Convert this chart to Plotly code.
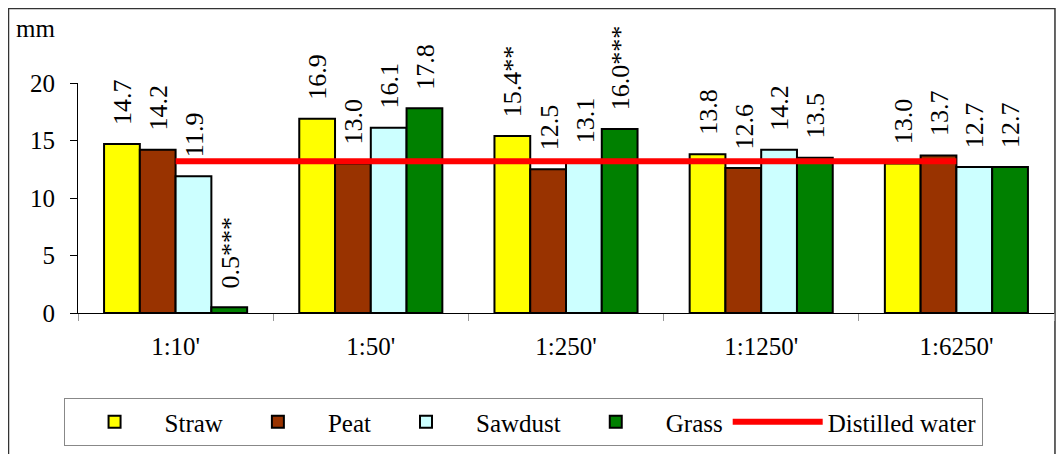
import plotly.graph_objects as go

categories = ["1:10'", "1:50'", "1:250'", "1:1250'", "1:6250'"]
straw = [14.7, 16.9, 15.4, 13.8, 13.0]
peat = [14.2, 13.0, 12.5, 12.6, 13.7]
sawdust = [11.9, 16.1, 13.1, 14.2, 12.7]
grass = [0.5, 17.8, 16.0, 13.5, 12.7]
water = [13.2, 13.2, 13.2, 13.2, 13.2]

straw_lbl = ["14.7", "16.9", "15.4**", "13.8", "13.0"]
peat_lbl = ["14.2", "13.0", "12.5", "12.6", "13.7"]
sawdust_lbl = ["11.9", "16.1", "13.1", "14.2", "12.7"]
grass_lbl = ["0.5***", "17.8", "16.0***", "13.5", "12.7"]

FONT = "Liberation Serif, Times New Roman, serif"
fs = 25
W, H = 1048, 446
ML, MR, MT, MB = 70, 2, 75, 141
BARGAP = 0.267

series = [
    ("Straw", straw, straw_lbl, "#FFFF00"),
    ("Peat", peat, peat_lbl, "#993300"),
    ("Sawdust", sawdust, sawdust_lbl, "#CCFFFF"),
    ("Grass", grass, grass_lbl, "#008000"),
]

fig = go.Figure()
for name, vals, lbl, col in series:
    fig.add_trace(go.Bar(
        name=name, x=categories, y=vals,
        marker=dict(color=col, line=dict(color="black", width=2)),
    ))

fig.add_trace(go.Scatter(
    name="Distilled water", x=categories, y=water, mode="lines",
    line=dict(color="#FF0000", width=6), cliponaxis=False,
))

# value labels, rotated, above each bar
plot_w = W - ML - MR
bar_w = plot_w / len(categories) * (1 - BARGAP) / len(series)
annotations = []
for i, (name, vals, lbl, col) in enumerate(series):
    for c, v, t in zip(categories, vals, lbl):
        annotations.append(dict(
            x=c, y=v, xref="x", yref="y", text=t, showarrow=False,
            textangle=-90, xanchor="center", yanchor="bottom",
            xshift=(i - (len(series) - 1) / 2) * bar_w + 1, yshift=17,
            font=dict(family=FONT, size=26, color="black"),
        ))
annotations.append(dict(
    text="mm", xref="paper", yref="paper", x=-0.044, y=1.239,
    xanchor="center", yanchor="middle", showarrow=False,
    font=dict(family=FONT, size=fs, color="black"),
))

fig.update_layout(
    width=W, height=H,
    margin=dict(l=ML, r=MR, t=MT, b=MB),
    paper_bgcolor="white", plot_bgcolor="white",
    barmode="group", bargap=BARGAP, bargroupgap=0,
    font=dict(family=FONT, size=fs, color="black"),
    showlegend=True,
    legend=dict(
        orientation="h", x=0.456, xanchor="center", y=-0.37, yanchor="top",
        bordercolor="#888888", borderwidth=1, bgcolor="white",
        font=dict(family=FONT, size=fs, color="black"),
        itemwidth=90, traceorder="normal",
    ),
    xaxis=dict(
        showline=True, linecolor="black", linewidth=1,
        ticks="outside", tickson="boundaries", ticklen=7, tickcolor="#999999",
        tickfont=dict(family=FONT, size=fs, color="black"),
        ticklabelstandoff=11,
        showgrid=False, zeroline=False,
    ),
    yaxis=dict(
        range=[0, 20], dtick=5, showline=True, linecolor="black", linewidth=1,
        ticks="outside", ticklen=7, tickcolor="black",
        tickfont=dict(family=FONT, size=fs, color="black"),
        ticklabelstandoff=10,
        showgrid=False, zeroline=False,
    ),
    annotations=annotations,
    shapes=[dict(
        type="rect", xref="paper", yref="paper",
        x0=-0.0712, x1=1.001, y0=-1.2, y1=1.324,
        line=dict(color="#333333", width=1.5), fillcolor="rgba(0,0,0,0)",
        layer="below",
    )],
)

fig.write_html("out.html")
